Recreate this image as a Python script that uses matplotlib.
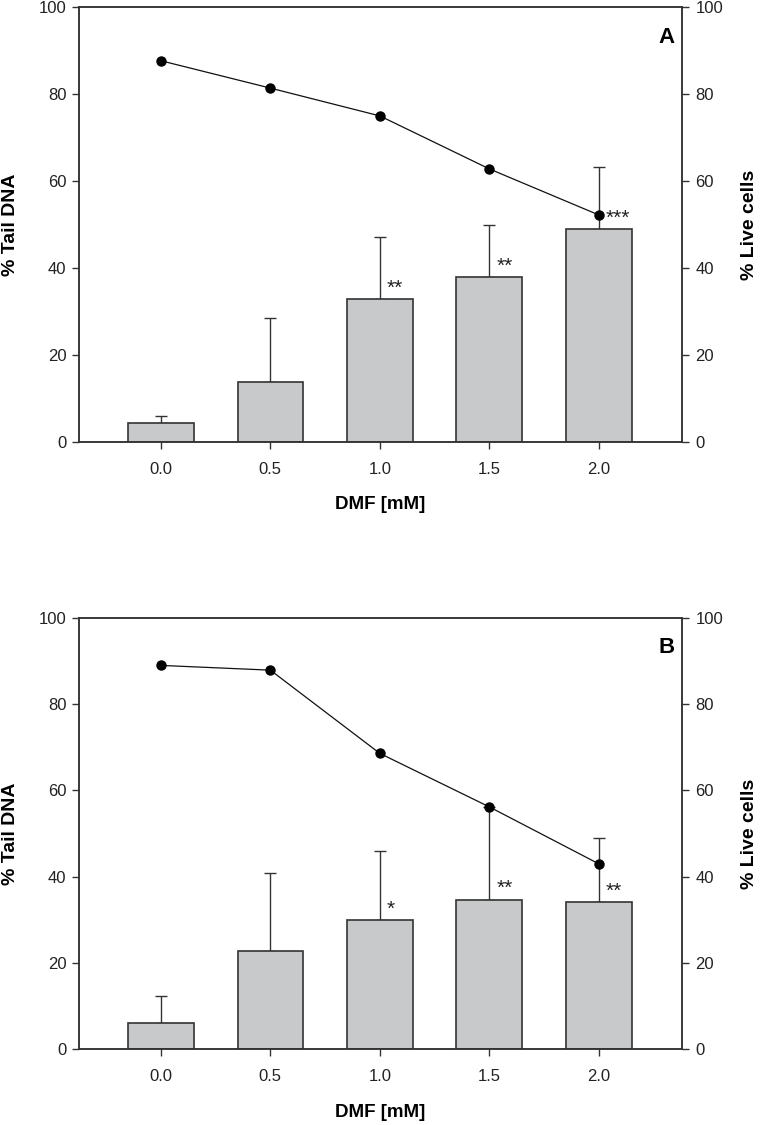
import matplotlib
matplotlib.use("Agg")
import matplotlib.pyplot as plt

plt.rcParams['font.family'] = ['Liberation Sans', 'DejaVu Sans']

dose = [0.0, 0.5, 1.0, 1.5, 2.0]
dose_labels = ["0.0", "0.5", "1.0", "1.5", "2.0"]

tail_a = [4.2, 13.8, 32.8, 37.8, 49.0]
tail_a_err = [1.8, 14.6, 14.3, 12.1, 14.2]
live_a = [87.7, 81.4, 75.0, 62.8, 52.2]
sig_a = ["", "", "**", "**", "***"]

tail_b = [6.2, 22.9, 30.0, 34.7, 34.2]
tail_b_err = [6.2, 18.0, 16.0, 21.5, 14.7]
live_b = [89.0, 87.9, 68.6, 56.2, 43.0]
sig_b = ["", "", "*", "**", "**"]

panels = [("A", tail_a, tail_a_err, live_a, sig_a),
          ("B", tail_b, tail_b_err, live_b, sig_b)]

fig = plt.figure(figsize=(7.6, 11.25), dpi=100)
rects = [[0.104, 0.6074, 0.793, 0.3861], [0.104, 0.0673, 0.793, 0.3834]]

edge = '#333333'
fill = '#c8c9cb'

for rect, (letter, tail, err, live, sig) in zip(rects, panels):
    ax = fig.add_axes(rect)
    ax.bar(dose, tail, width=0.30, color=fill, edgecolor=edge, linewidth=1.2, zorder=2)
    ax.errorbar(dose, tail, yerr=[[0] * len(err), err], fmt='none', ecolor=edge,
                elinewidth=1.0, capsize=4, capthick=1.0, zorder=1)
    for x, t, s in zip(dose, tail, sig):
        if s:
            ax.text(x + 0.033, t + 0.3, s, ha='left', va='bottom', fontsize=15, color='#222222')
    ax.set_xlim(-0.374, 2.379)
    ax.set_ylim(0, 100)
    ax.set_xticks(dose)
    ax.set_xticklabels(dose_labels)
    ax.set_yticks([0, 20, 40, 60, 80, 100])
    ax.tick_params(axis='both', direction='out', length=5, width=1.0, colors=edge,
                   labelsize=12, labelcolor='#222222')
    ax.tick_params(axis='x', pad=9.5)
    ax.tick_params(axis='y', pad=4)
    for sp in ax.spines.values():
        sp.set_color(edge)
        sp.set_linewidth(1.1)
    ax.set_xlabel("DMF [mM]", fontsize=13.5, fontweight='bold', labelpad=14)
    ax.set_ylabel("% Tail DNA", fontsize=14, fontweight='bold', labelpad=14)

    ax2 = ax.twinx()
    ax2.plot(dose, live, color='#111111', linewidth=0.9, marker='o', markersize=6.5,
             markerfacecolor='black', markeredgecolor='black', zorder=5)
    ax2.set_ylim(0, 100)
    ax2.set_yticks([0, 20, 40, 60, 80, 100])
    ax2.tick_params(axis='y', direction='out', length=5, width=1.0, colors=edge,
                    labelsize=12, labelcolor='#222222', pad=5)
    for sp in ax2.spines.values():
        sp.set_color(edge)
        sp.set_linewidth(1.1)
    ax2.set_ylabel("% Live cells", fontsize=14, fontweight='bold', labelpad=13)
    ax2.text(0.988, 0.955, letter, transform=ax2.transAxes, ha='right', va='top',
             fontsize=16, fontweight='bold')

fig.savefig("out.png", dpi=100)
